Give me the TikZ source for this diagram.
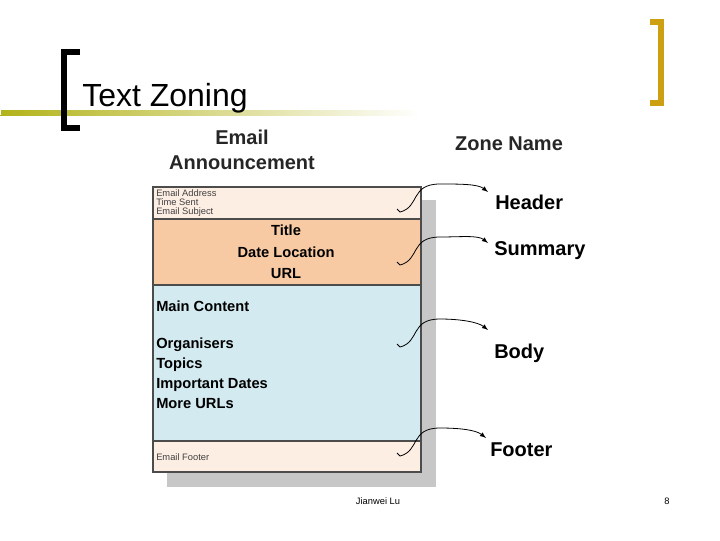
\documentclass[tikz,border=0pt]{standalone}
\usepackage{fontspec}
\setmainfont{Liberation Sans}
\usetikzlibrary{calc}
\begin{document}
\begin{tikzpicture}[x=0.75pt,y=-0.75pt,
  zone/.style={draw=black!70,line width=0.8pt},
  small/.style={font=\fontsize{7}{8}\selectfont,text=black!75,anchor=west,inner sep=0},
  big/.style={font=\bfseries\fontsize{15}{18}\selectfont,anchor=west,inner sep=0},
  mid/.style={font=\bfseries\fontsize{11}{14}\selectfont,inner sep=0},
  arr/.style={-latex,line width=0.6pt}]
\useasboundingbox (0,0) rectangle (720,540);
% title decoration
\shade[left color=black!0!olive!60!white,right color=white] (0,110) rectangle (420,115);
\fill[white] (0,110) rectangle (1,115);
\draw[line width=4.5pt] (80,52) -- (64,52) -- (64,128) -- (80,128);
\draw[line width=4.5pt,color={rgb,255:red,205;green,160;blue,20}] (650,22) -- (661,22) -- (661,103) -- (650,103);
\node[anchor=base west,inner sep=0,font=\fontsize{24}{28}\selectfont] (title) at (82,106) {Text Zoning};
% headings
\node[font=\bfseries\fontsize{15}{19}\selectfont,align=center,text=black!85] (email) at (242,150) {Email\\Announcement};
\node[font=\bfseries\fontsize{15}{18}\selectfont,text=black!85] (zn) at (509,144) {Zone Name};
% boxes
\fill[black!22] (167,200) rectangle (436,487);
\draw[zone,fill={rgb,255:red,253;green,238;blue,228}] (153,187) rectangle (421,219);
\draw[zone,fill={rgb,255:red,248;green,202;blue,164}] (153,219) rectangle (421,285);
\draw[zone,fill={rgb,255:red,210;green,234;blue,240}] (153,285) rectangle (421,441);
\draw[zone,fill={rgb,255:red,253;green,238;blue,228}] (153,441) rectangle (421,472);
\node[small,align=left] (hdr) at (156,203) {Email Address\\[-1pt]Time Sent\\[-1pt]Email Subject};
\node[mid,align=center] (sum) at (286,252) {Title\\[2pt]Date Location\\[2pt]URL};
\node[mid,anchor=west] (main) at (156,306) {Main Content};
\node[mid,anchor=west,align=left] (list) at (156,373) {Organisers\\[1pt]Topics\\[1pt]Important Dates\\[1pt]More URLs};
\node[small] (foot) at (156,457) {Email Footer};
% zone labels
\node[big] (lh) at (495,202) {Header};
\node[big] (ls) at (494,251) {Summary};
\node[big] (lb) at (494,353) {Body};
\node[big] (lf) at (490,450) {Footer};
% arrows
\coordinate (a1) at (400,212); \coordinate (b1) at (488,192);
\coordinate (a2) at (400,265); \coordinate (b2) at (488,243);
\coordinate (a3) at (400,347); \coordinate (b3) at (488,330);
\coordinate (a4) at (400,456); \coordinate (b4) at (486,438);
\foreach \i in {1,2,3,4}{
  \draw[arr] (a\i) .. controls ++(20,-5) and ++(-30,0) .. ++(40,-28) .. controls ++(20,0) and ++(-10,-8) .. (b\i);
  \draw[line width=0.6pt] ($(a\i)+(-3,-3)$) -- (a\i);
}
% footer
\node[font=\fontsize{7}{8}\selectfont] (author) at (378,501) {Jianwei Lu};
\node[font=\fontsize{7}{8}\selectfont] (page) at (667,501) {8};
\end{tikzpicture}
\end{document}
